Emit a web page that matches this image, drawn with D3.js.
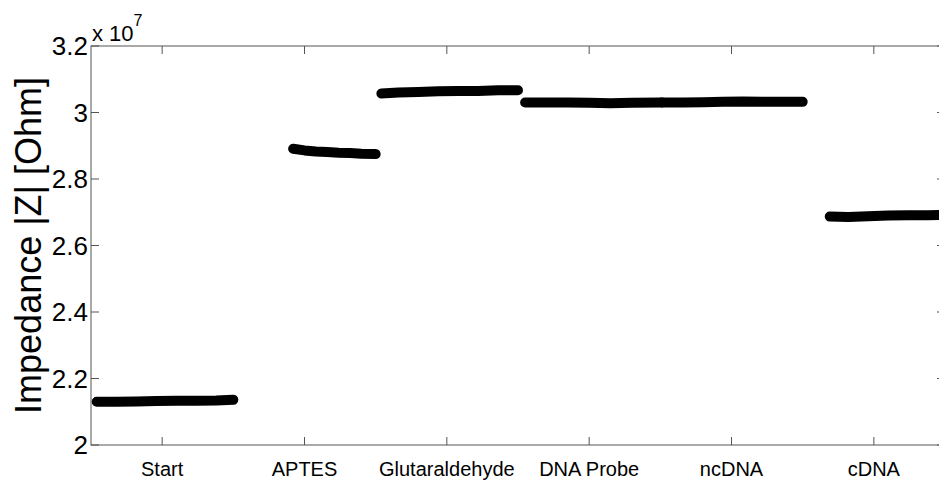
<!DOCTYPE html>
<html>
<head>
<meta charset="utf-8">
<script src="https://cdn.jsdelivr.net/npm/d3@7"></script>
<style>
  body { margin: 0; background: #fff; }
  svg { display: block; font-family: Arial, "Liberation Sans", Helvetica, sans-serif; }
</style>
</head>
<body>
<script>
// Stage labels and their tick positions on the x axis
const stages = ['Start', 'APTES', 'Glutaraldehyde', 'DNA Probe', 'ncDNA', 'cDNA'];
const stageTicks = [1, 2, 3, 4, 5, 6];
const yTicks = [2, 2.2, 2.4, 2.6, 2.8, 3, 3.2];

const startX = [0.54, 0.68, 0.82, 0.96, 1.10, 1.24, 1.38, 1.50];
const startY = [2.130, 2.130, 2.131, 2.132, 2.133, 2.133, 2.134, 2.136];
const aptesX = [1.92, 2.00, 2.08, 2.16, 2.24, 2.32, 2.40, 2.50];
const aptesY = [2.891, 2.886, 2.883, 2.881, 2.879, 2.878, 2.876, 2.875];
const glutX = [2.54, 2.66, 2.80, 2.94, 3.08, 3.22, 3.36, 3.50];
const glutY = [3.057, 3.060, 3.062, 3.064, 3.065, 3.065, 3.067, 3.067];
const probeX = [3.55, 3.70, 3.85, 4.00, 4.15, 4.30, 4.51];
const probeY = [3.030, 3.030, 3.030, 3.029, 3.028, 3.029, 3.030];
const ncdnaX = [4.51, 4.66, 4.80, 4.94, 5.08, 5.22, 5.36, 5.50];
const ncdnaY = [3.030, 3.030, 3.031, 3.032, 3.033, 3.032, 3.032, 3.032];
const cdnaX = [5.69, 5.82, 5.96, 6.10, 6.24, 6.38, 6.54];
const cdnaY = [2.687, 2.686, 2.688, 2.690, 2.691, 2.691, 2.692];

const series = [
  [startX, startY], [aptesX, aptesY], [glutX, glutY],
  [probeX, probeY], [ncdnaX, ncdnaY], [cdnaX, cdnaY]
].map(([xs, ys]) => xs.map((x, i) => ({ x, y: ys[i] })));

const W = 939, H = 482;
const margin = { top: 46, right: -6, bottom: 37, left: 91 };
const width = W - margin.left - margin.right;
const height = H - margin.top - margin.bottom;

const svg = d3.select('body').append('svg')
  .attr('width', W)
  .attr('height', H);

const g = svg.append('g')
  .attr('transform', `translate(${margin.left}, ${margin.top})`);

const x = d3.scaleLinear().domain([0.5, 6.5]).range([0, width]);
const y = d3.scaleLinear().domain([2, 3.2]).range([height, 0]);

g.append('clipPath').attr('id', 'plot-clip')
  .append('rect').attr('width', width).attr('height', height);

// Box with inward ticks (MATLAB style)
const axisColor = '#555';
g.append('rect')
  .attr('width', width).attr('height', height)
  .attr('fill', 'none').attr('stroke', axisColor).attr('stroke-width', 1);

const tickLen = 8;
g.selectAll('.xt-b').data(stageTicks).enter().append('line')
  .attr('x1', d => x(d)).attr('x2', d => x(d))
  .attr('y1', height).attr('y2', height - tickLen)
  .attr('stroke', axisColor);
g.selectAll('.xt-t').data(stageTicks).enter().append('line')
  .attr('x1', d => x(d)).attr('x2', d => x(d))
  .attr('y1', 0).attr('y2', tickLen)
  .attr('stroke', axisColor);
g.selectAll('.yt-l').data(yTicks).enter().append('line')
  .attr('x1', 0).attr('x2', tickLen)
  .attr('y1', d => y(d)).attr('y2', d => y(d))
  .attr('stroke', axisColor);
g.selectAll('.yt-r').data(yTicks).enter().append('line')
  .attr('x1', width).attr('x2', width - tickLen)
  .attr('y1', d => y(d)).attr('y2', d => y(d))
  .attr('stroke', axisColor);

// Tick labels
g.selectAll('.xl').data(stageTicks).enter().append('text')
  .attr('x', d => x(d)).attr('y', height + 31)
  .attr('text-anchor', 'middle')
  .attr('font-size', 20)
  .text((d, i) => stages[i]);

g.selectAll('.yl').data(yTicks).enter().append('text')
  .attr('x', -3).attr('y', d => y(d))
  .attr('text-anchor', 'end')
  .attr('dominant-baseline', 'central')
  .attr('font-size', 26)
  .text(d => d3.format('~g')(d));

// Exponent label
const expo = svg.append('text')
  .attr('x', 92).attr('y', 41)
  .attr('font-size', 22);
expo.append('tspan').text('x 10');
expo.append('tspan').attr('dy', -15).attr('font-size', 16).text('7');

// Y axis title
svg.append('text')
  .attr('transform', `translate(41, ${margin.top + height / 2}) rotate(-90)`)
  .attr('text-anchor', 'middle')
  .attr('font-size', 36)
  .text('Impedance |Z| [Ohm]');

// Data traces
const line = d3.line().x(d => x(d.x)).y(d => y(d.y));
g.append('g').attr('clip-path', 'url(#plot-clip)')
  .selectAll('path').data(series).enter().append('path')
  .attr('d', line)
  .attr('fill', 'none')
  .attr('stroke', '#000')
  .attr('stroke-width', 10)
  .attr('stroke-linecap', 'round')
  .attr('stroke-linejoin', 'round');
</script>
</body>
</html>
